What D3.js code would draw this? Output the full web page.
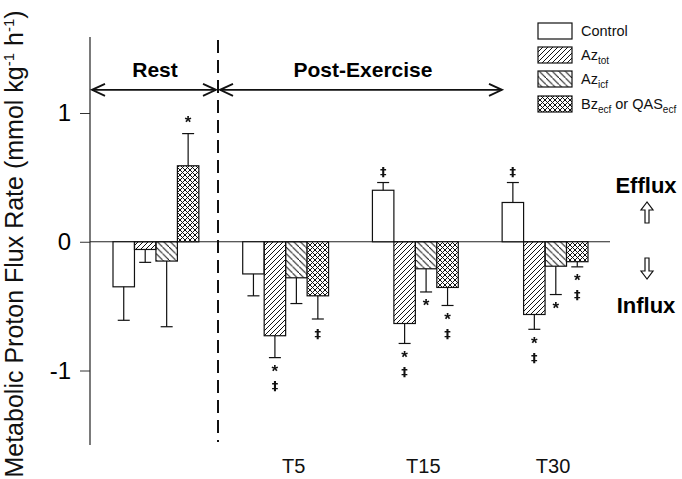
<!DOCTYPE html>
<html>
<head>
<meta charset="utf-8">
<script src="https://cdn.jsdelivr.net/npm/d3@7"></script>
<style>
  body { margin: 0; background: #fff; }
  svg { font-family: "Liberation Sans", Arial, sans-serif; }
  .marks { filter: grayscale(1); }
</style>
</head>
<body>
<svg id="chart" width="682" height="479"></svg>
<script>
// groups along x and the four treatments
const groups = ['Rest', 'T5', 'T15', 'T30'];
const series = ['control', 'azTot', 'azIcf', 'bz'];
const tickLabels = ['T5', 'T15', 'T30'];

// mean flux rates (mmol kg-1 h-1)
const control = [-0.35, -0.25, 0.40, 0.305];
const azTot = [-0.06, -0.73, -0.635, -0.565];
const azIcf = [-0.15, -0.28, -0.21, -0.19];
const bz = [0.59, -0.42, -0.355, -0.155];

// error (SEM)
const controlErr = [0.26, 0.17, 0.06, 0.155];
const azTotErr = [0.10, 0.17, 0.155, 0.115];
const azIcfErr = [0.51, 0.20, 0.18, 0.22];
const bzErr = [0.25, 0.18, 0.14, 0.04];

// significance marks
const controlSig = ['', '', '‡', '‡'];
const azTotSig = ['', '*‡', '*‡', '*‡'];
const azIcfSig = ['', '', '*', '*'];
const bzSig = ['*', '‡', '*‡', '*‡'];

const means = { control, azTot, azIcf, bz };
const errs = { control: controlErr, azTot: azTotErr, azIcf: azIcfErr, bz: bzErr };
const sigs = { control: controlSig, azTot: azTotSig, azIcf: azIcfSig, bz: bzSig };

const svg = d3.select('svg#chart');

// hatch patterns
const defs = svg.append('defs');
defs.append('pattern').attr('id', 'p-azTot').attr('patternUnits', 'userSpaceOnUse')
  .attr('width', 5).attr('height', 5)
  .append('path').attr('d', 'M-1,1 L1,-1 M0,5 L5,0 M4,6 L6,4')
  .attr('stroke', '#111').attr('stroke-width', 1);
defs.append('pattern').attr('id', 'p-azIcf').attr('patternUnits', 'userSpaceOnUse')
  .attr('width', 6.5).attr('height', 6.5)
  .append('path').attr('d', 'M-1,-1 L1,1 M0,0 L6.5,6.5 M5.5,7.5 L7.5,5.5 M5.5,5.5 L7.5,7.5')
  .attr('stroke', '#111').attr('stroke-width', 1);
const cross = defs.append('pattern').attr('id', 'p-bz').attr('patternUnits', 'userSpaceOnUse')
  .attr('width', 5).attr('height', 5);
cross.append('rect').attr('width', 5).attr('height', 5).attr('fill', '#fff');
cross.append('path').attr('d', 'M-1,1 L1,-1 M0,5 L5,0 M4,6 L6,4 M-1,4 L1,6 M0,0 L5,5 M4,-1 L6,1')
  .attr('stroke', '#111').attr('stroke-width', 1);

const fills = { control: '#fff', azTot: 'url(#p-azTot)', azIcf: 'url(#p-azIcf)', bz: 'url(#p-bz)' };

// scales
const y = d3.scaleLinear().domain([-1, 1]).range([370.5, 113]);
const x0 = d3.scaleBand().domain(groups).range([113, 588]).paddingInner(0.338).paddingOuter(0);
const x1 = d3.scaleBand().domain(series).range([0, x0.bandwidth()]);

// y axis
const axis = svg.append('g').attr('transform', 'translate(90,0)')
  .call(d3.axisLeft(y).tickValues([-1, 0, 1]).tickFormat(d => String(d)).tickSize(10).tickPadding(9));
axis.select('.domain').remove();
axis.selectAll('text').attr('font-size', 24).attr('font-family', '"Liberation Sans", Arial, sans-serif');
axis.selectAll('line').attr('stroke', '#333');
svg.append('line').attr('x1', 90).attr('x2', 90).attr('y1', 37).attr('y2', 445)
  .attr('stroke', '#222').attr('stroke-width', 1.2);

// zero line
svg.append('line').attr('x1', 90).attr('x2', 610).attr('y1', y(0)).attr('y2', y(0))
  .attr('stroke', '#222').attr('stroke-width', 1.2);

// y label
const yl = svg.append('text').attr('transform', 'translate(23,244) rotate(-90)')
  .attr('text-anchor', 'middle').attr('font-size', 25).attr('fill', '#111');
yl.append('tspan').text('Metabolic Proton Flux Rate (mmol kg');
yl.append('tspan').text('-1').attr('font-size', 15).attr('dy', -9);
yl.append('tspan').text(' h').attr('dy', 9);
yl.append('tspan').text('-1').attr('font-size', 15).attr('dy', -9);
yl.append('tspan').text(')').attr('dy', 9);

// bars
const rows = [];
groups.forEach((g, i) => series.forEach(s => {
  rows.push({ g, s, v: means[s][i], e: errs[s][i], sig: sigs[s][i] });
}));

const bars = svg.append('g');
bars.selectAll('rect').data(rows).join('rect')
  .attr('x', d => x0(d.g) + x1(d.s))
  .attr('width', x1.bandwidth())
  .attr('y', d => y(Math.max(0, d.v)))
  .attr('height', d => Math.abs(y(d.v) - y(0)))
  .attr('fill', d => fills[d.s])
  .attr('stroke', '#111').attr('stroke-width', 1.2);

// error bars
const eb = svg.append('g').attr('stroke', '#111').attr('stroke-width', 1.2);
rows.forEach(d => {
  const cx = x0(d.g) + x1(d.s) + x1.bandwidth() / 2;
  const end = d.v + Math.sign(d.v) * d.e;
  eb.append('line').attr('x1', cx).attr('x2', cx).attr('y1', y(d.v)).attr('y2', y(end));
  eb.append('line').attr('x1', cx - 6).attr('x2', cx + 6).attr('y1', y(end)).attr('y2', y(end));
});

// significance marks
const sg = svg.append('g').attr('class', 'marks').attr('text-anchor', 'middle')
  .attr('dominant-baseline', 'central').attr('fill', '#111');
rows.forEach(d => {
  if (!d.sig) return;
  const cx = x0(d.g) + x1(d.s) + x1.bandwidth() / 2;
  const end = y(d.v + Math.sign(d.v) * d.e);
  const chars = Array.from(d.sig);
  chars.forEach((c, k) => {
    const off = d.v < 0 ? 14 + k * 14 : -(11 + (chars.length - 1 - k) * 14);
    sg.append('text').attr('x', cx).attr('y', end + off).text(c)
      .attr('fill', '#111')
      .attr('font-family', c === '*' ? '"Liberation Sans", Arial, sans-serif' : '"DejaVu Sans", sans-serif')
      .attr('font-size', c === '*' ? 17 : 13)
      .attr('font-weight', 'bold');
  });
});

// x labels
svg.append('g').selectAll('text').data(tickLabels).join('text')
  .attr('x', d => x0(d) + x0.bandwidth() / 2 + 8)
  .attr('y', 473).attr('text-anchor', 'middle').attr('font-size', 20).attr('fill', '#111')
  .text(d => d);

// divider between rest and post-exercise
svg.append('line').attr('x1', 218).attr('x2', 218).attr('y1', 40).attr('y2', 442)
  .attr('stroke', '#111').attr('stroke-width', 2).attr('stroke-dasharray', '13,7');

// phase arrows
function dblArrow(xa, xb, yy) {
  const g = svg.append('g').attr('stroke', '#111').attr('stroke-width', 1.8).attr('fill', 'none');
  g.append('line').attr('x1', xa).attr('x2', xb).attr('y1', yy).attr('y2', yy);
  g.append('path').attr('d', `M${xa + 13},${yy - 6} L${xa},${yy} L${xa + 13},${yy + 6}`);
  g.append('path').attr('d', `M${xb - 13},${yy - 6} L${xb},${yy} L${xb - 13},${yy + 6}`);
}
dblArrow(92, 216, y(1.18));
dblArrow(220, 502, y(1.18));
svg.append('text').attr('x', 155).attr('y', 77).attr('text-anchor', 'middle')
  .attr('font-size', 21).attr('font-weight', 'bold').text('Rest');
svg.append('text').attr('x', 363).attr('y', 77).attr('text-anchor', 'middle')
  .attr('font-size', 21).attr('font-weight', 'bold').text('Post-Exercise');

// efflux / influx with hollow arrows
svg.append('text').attr('x', 646).attr('y', 193).attr('text-anchor', 'middle')
  .attr('font-size', 22).attr('font-weight', 'bold').text('Efflux');
svg.append('text').attr('x', 646).attr('y', 313).attr('text-anchor', 'middle')
  .attr('font-size', 22).attr('font-weight', 'bold').text('Influx');
function hollowArrow(cx, tip, dir) {
  // dir = -1 points up, 1 points down
  const h = 8, L = 21;
  const base = tip - dir * h;
  const end = tip - dir * L;
  svg.append('path')
    .attr('d', `M${cx},${tip} L${cx - 6},${base} L${cx - 2},${base} L${cx - 2},${end} L${cx + 2},${end} L${cx + 2},${base} L${cx + 6},${base} Z`)
    .attr('fill', 'none').attr('stroke', '#111').attr('stroke-width', 1.2);
}
hollowArrow(647, 202, -1);
hollowArrow(647, 279, 1);

// legend
const legendNames = [
  [['Control', false]],
  [['Az', false], ['tot', true]],
  [['Az', false], ['icf', true]],
  [['Bz', false], ['ecf', true], [' or QAS', false], ['ecf', true]]
];
const legendY = [23, 47, 71, 96];
const lg = svg.append('g');
series.forEach((s, i) => {
  lg.append('rect').attr('x', 538).attr('y', legendY[i]).attr('width', 34).attr('height', 16)
    .attr('fill', fills[s]).attr('stroke', '#111').attr('stroke-width', 1.2);
  const t = lg.append('text').attr('x', 581).attr('y', legendY[i] + 13).attr('font-size', 14.5).attr('fill', '#111');
  let sub = false;
  legendNames[i].forEach(([txt, isSub]) => {
    const ts = t.append('tspan').text(txt);
    if (isSub) { ts.attr('font-size', 10).attr('dy', sub ? 0 : 4); }
    else { ts.attr('dy', sub ? -4 : 0); }
    sub = isSub;
  });
});
</script>
</body>
</html>
